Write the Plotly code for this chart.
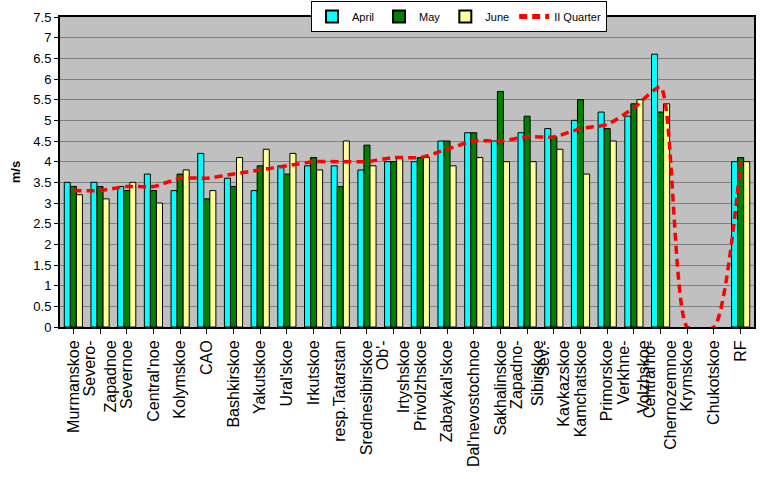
import plotly.graph_objects as go

categories = ["Murmanskoe", "Severo-<br>Zapadnoe", "Severnoe", "Central'noe", "Kolymskoe", "CAO",
              "Bashkirskoe", "Yakutskoe", "Ural'skoe", "Irkutskoe", "resp.Tatarstan",
              "Srednesibirskoe", "Ob'-<br>Irtyshskoe", "Privolzhskoe", "Zabaykal'skoe",
              "Dal'nevostochnoe", "Sakhalinskoe", "Zapadno-<br>Sibirskoe", "Sev.-<br>Kavkazskoe",
              "Kamchatskoe", "Primorskoe", "Verkhne-<br>Volzhskoe", "Central'no-<br>Chernozemnoe",
              "Krymskoe", "Chukotskoe", "RF"]

april = [3.5, 3.5, 3.4, 3.7, 3.3, 4.2, 3.6, 3.3, 3.9, 3.9, 3.9, 3.8, 4.0, 4.0, 4.5, 4.7,
         4.5, 4.7, 4.8, 5.0, 5.2, 5.1, 6.6, None, None, 4.0]
may = [3.4, 3.4, 3.3, 3.3, 3.7, 3.1, 3.4, 3.9, 3.7, 4.1, 3.4, 4.4, 4.0, 4.1, 4.5, 4.7,
       5.7, 5.1, 4.6, 5.5, 4.8, 5.4, 5.2, None, None, 4.1]
june = [3.2, 3.1, 3.5, 3.0, 3.8, 3.3, 4.1, 4.3, 4.2, 3.8, 4.5, 3.9, 4.1, 4.1, 3.9, 4.1,
        4.0, 4.0, 4.3, 3.7, 4.5, 5.5, 5.4, None, None, 4.0]
quarter2 = [3.3, 3.3, 3.4, 3.4, 3.6, 3.6, 3.7, 3.8, 3.9, 4.0, 4.0, 4.0, 4.1, 4.1, 4.3, 4.5,
            4.5, 4.6, 4.6, 4.8, 4.9, 5.3, 5.8, 0, 0, 4.0]

y_ticks = [i * 0.5 for i in range(16)]
y_ticktext = ["0", "0.5", "1", "1.5", "2", "2.5", "3", "3.5", "4", "4.5", "5", "5.5",
              "6", "6.5", "7", "7.5"]

FONT = "Liberation Sans, Arial, sans-serif"

fig = go.Figure()
for name, vals, col in [("April", april, "#00FFFF"), ("May", may, "#008000"), ("June", june, "#FFFF99")]:
    fig.add_trace(go.Bar(x=categories, y=vals, name=name, marker_color=col,
                         marker_line=dict(color="black", width=1)))
fig.add_trace(go.Scatter(x=categories, y=quarter2, name="II Quarter", mode="lines",
                         line=dict(color="#FF0000", width=3.5, dash="8px,5px", shape="spline", smoothing=0.6)))

fig.update_layout(
    width=777, height=479,
    margin=dict(l=60, r=23, t=17, b=152, autoexpand=False),
    paper_bgcolor="white", plot_bgcolor="#C0C0C0",
    barmode="group", bargap=0.32, bargroupgap=0,
    font=dict(family=FONT, size=13, color="black"),
    showlegend=True,
    legend=dict(orientation="h", x=0.3617, y=1.0516, xanchor="left", yanchor="top",
                bgcolor="white", bordercolor="black", borderwidth=1,
                font=dict(size=11), tracegroupgap=0, itemwidth=30,
                itemsizing="constant"),
)
fig.update_xaxes(type="category", showline=True, linecolor="black", linewidth=2, mirror=True,
                 ticks="outside", ticklen=5, tickcolor="black", tickangle=-90,
                 tickfont=dict(size=16), showgrid=False)
fig.update_yaxes(range=[0, 7.5], tickvals=y_ticks, ticktext=y_ticktext, showline=True,
                 linecolor="black", linewidth=2, mirror=True, ticks="outside", ticklen=4,
                 tickcolor="black", showgrid=True, gridcolor="#808080", gridwidth=1,
                 tickfont=dict(size=13), zeroline=False,
                 title=dict(text="<b>m/s</b>", font=dict(size=13), standoff=10))

fig.write_html("out.html")
